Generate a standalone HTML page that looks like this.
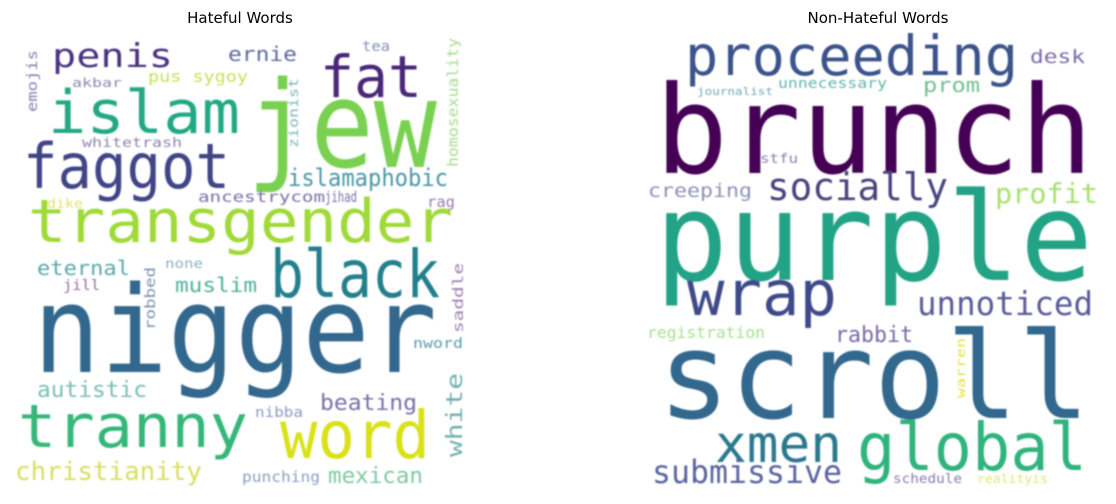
<!DOCTYPE html>
<html><head><meta charset="utf-8">
<style>
html,body{margin:0;padding:0;background:#fff;width:1116px;height:504px;overflow:hidden}
svg{display:block}
.title{font-family:"DejaVu Sans","Liberation Sans",sans-serif;font-size:15px;fill:#000}
.w{font-family:"DejaVu Sans Mono","Liberation Mono",monospace}
</style></head>
<body>
<svg id="chart" width="1116" height="504" viewBox="0 0 1116 504">
<defs><filter id="blur" x="-5%" y="-5%" width="110%" height="110%"><feGaussianBlur stdDeviation="0.7"/></filter></defs>
<text class="title" x="240" y="23" text-anchor="middle">Hateful Words</text>
<text class="title" x="878" y="23" text-anchor="middle">Non-Hateful Words</text>
<g id="left" filter="url(#blur)"></g>
<g id="right" filter="url(#blur)"></g>
</svg>
<script>
// Hateful words: word, font size, colour, rotation
const hWords = ["penis","ernie","tea","fat","jew","islam","pus sygoy","akbar","emojis","whitetrash","zionist","homosexuality","faggot","islamaphobic","ancestrycom","jihad","dike","rag","transgender","black","eternal","none","muslim","jill","robbed","saddle","nigger","nword","autistic","beating","nibba","white","tranny","word","christianity","punching","mexican"];
const hSizes = [33,20,14,58,120,60,16,12,14,13,13,15,62,24,15,15,13,15,60,66,20,13,20,14,14,14,120,14,22,22,14,22,60,66,26,15,22];
const hColors = ["#46337e","#5d6aa0","#8090b5","#482878","#7ad151","#22a884","#c8e05a","#8a8ab0","#8a7ab0","#8a84b0","#7fb8b8","#a8dc8c","#414487","#4a96a4","#7b70a8","#7b70a8","#e8e070","#9a7ab0","#a0da39","#21808c","#5aa8a8","#8ab0c0","#50b09a","#9a6aa0","#7a90b0","#9a80b0","#31688e","#5a9ab0","#78c0b0","#7870a8","#8a9ac0","#70b0b0","#35b779","#d8e219","#d8e060","#8aa0c0","#80c8a0"];
const hRot = [0,0,0,0,0,0,0,0,-90,0,-90,-90,0,0,0,0,0,0,0,0,0,0,0,0,-90,-90,0,0,0,0,0,-90,0,0,0,0,0];
const hX = [52,228,362,320,247,48,148,72,37,82,298,458,23,288,198,325,47,427,28,270,37,165,175,63,155,463,33,413,37,320,255,462,18,280,15,242,328];
const hY = [67,61,51,97,167,133,82,87,112,147,148,167,188,186,202,202,208,207,242,297,275,268,292,290,330,333,372,348,397,410,417,457,447,458,480,482,483];
const hW = [121,69,28,102,190,192,100,50,62,100,70,129,207,160,127,32,36,28,425,170,93,38,82,37,63,70,404,50,110,97,48,84,230,150,187,78,95];

// Non-hateful words
const nWords = ["proceeding","desk","unnecessary","journalist","prom","brunch","stfu","creeping","socially","profit","purple","wrap","unnoticed","registration","rabbit","scroll","warren","xmen","global","submissive","schedule","realityis"];
const nSizes = [55,19,14,11,20,122,13,19,38,28,122,62,33,16,22,120,12,52,66,32,13,12];
const nColors = ["#3b528b","#7a6aa8","#60b8a8","#70a8b8","#70c090","#440154","#8a80b0","#8a90b8","#46427e","#a8e070","#20a386","#3e4a89","#5a5a98","#a8e090","#7a68a8","#31688e","#e8e040","#2a788e","#2fb47c","#5a64a0","#8a78b0","#e0e870"];
const nRot = [0,0,0,0,0,0,0,0,0,0,0,0,0,0,0,0,-90,0,0,0,0,0];
const nX = [685,1030,778,697,923,655,760,648,767,995,655,687,917,647,835,658,965,715,857,652,893,977];
const nY = [75,63,88,95,92,173,163,197,200,203,280,315,315,338,342,418,398,462,470,483,483,483];
const nW = [333,55,109,76,57,438,38,104,181,103,438,150,176,118,78,432,60,127,230,190,69,71];

function draw(groupId, words, sizes, colors, rots, xs, ys, ws, prefix) {
  const g = document.getElementById(groupId);
  for (let i = 0; i < words.length; i++) {
    const t = document.createElementNS("http://www.w3.org/2000/svg", "text");
    t.setAttribute("class", "w");
    t.setAttribute("font-size", sizes[i]);
    t.setAttribute("fill", colors[i]);
    t.setAttribute("x", 0);
    t.setAttribute("y", 0);
    t.setAttribute("textLength", ws[i]);
    t.setAttribute("lengthAdjust", "spacingAndGlyphs");
    t.setAttribute("transform", "translate(" + xs[i] + "," + ys[i] + ") rotate(" + rots[i] + ")");
    t.textContent = words[i];
    
    
    g.appendChild(t);
  }
}
draw("left", hWords, hSizes, hColors, hRot, hX, hY, hW, "hateful");
draw("right", nWords, nSizes, nColors, nRot, nX, nY, nW, "non-hateful");
</script>
</body></html>
